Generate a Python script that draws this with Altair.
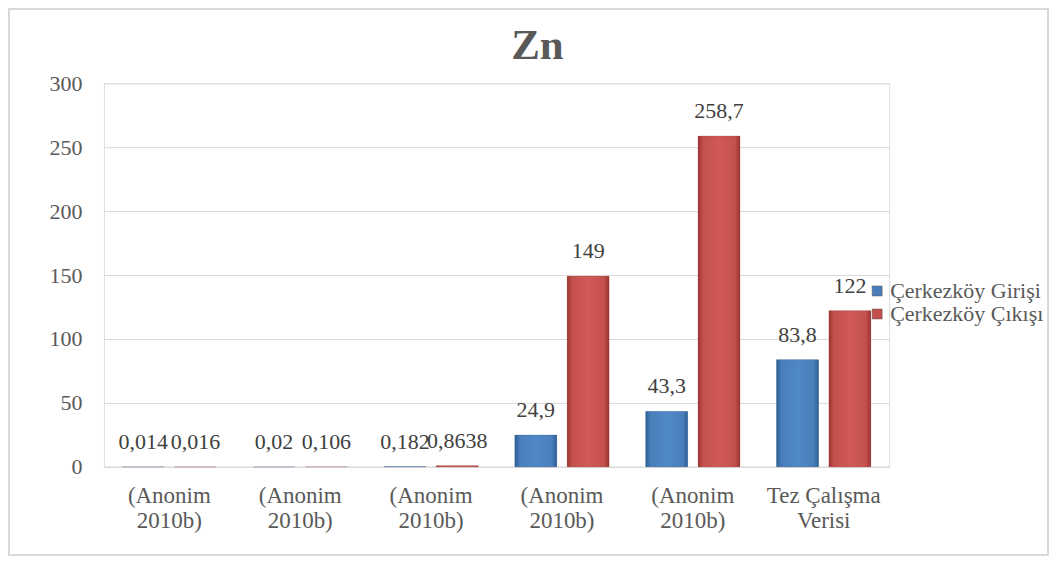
import altair as alt
import pandas as pd
import json

# ---- data ----
categories = [["(Anonim", "2010b)"], ["(Anonim", "2010b)"], ["(Anonim", "2010b)"],
              ["(Anonim", "2010b)"], ["(Anonim", "2010b)"], ["Tez Çalışma", "Verisi"]]
series = ["Çerkezköy Girişi", "Çerkezköy Çıkışı"]
giris = [0.014, 0.02, 0.182, 24.9, 43.3, 83.8]
cikis = [0.016, 0.106, 0.8638, 149, 258.7, 122]
y_ticks = [0, 50, 100, 150, 200, 250, 300]

def fmt(v):
    return str(v).replace(".", ",")

rows = []
for i in range(len(categories)):
    rows.append({"cat": i, "series": series[0], "value": giris[i], "label": fmt(giris[i])})
    rows.append({"cat": i, "series": series[1], "value": cikis[i], "label": fmt(cikis[i])})
df = pd.DataFrame(rows)

FONT = "Liberation Serif"
label_expr = json.dumps(categories, ensure_ascii=False) + "[datum.value]"

x = alt.X("cat:O", scale=alt.Scale(paddingInner=0.28, paddingOuter=0.14),
          axis=alt.Axis(title=None, labelExpr=label_expr, labelAngle=0, ticks=False,
                        domain=True, domainColor="#d9d9d9", labelPadding=18,
                        labelLineHeight=25, labelFontSize=23, labelColor="#595959",
                        labelFont=FONT))
xo = alt.XOffset("series:N", sort=series,
                 scale=alt.Scale(domain=series, paddingInner=0.2, paddingOuter=0))
y = alt.Y("value:Q", scale=alt.Scale(domain=[0, 300]),
          axis=alt.Axis(title=None, values=y_ticks, ticks=False, domain=False,
                        gridColor="#d9d9d9", labelPadding=22, labelFontSize=22,
                        labelColor="#595959", labelFont=FONT))

base = alt.Chart(df)

bars = base.mark_bar().encode(
    x=x, xOffset=xo, y=y,
    color=alt.Color("series:N", sort=series,
                    scale=alt.Scale(domain=series, range=["#4a7ebb", "#c4504d"]),
                    legend=alt.Legend(title=None, orient="none", legendX=763, legendY=197,
                                      symbolType="square", symbolSize=100,
                                      symbolStrokeColor="#555555", symbolStrokeWidth=0.5,
                                      labelFont=FONT, labelFontSize=22, labelLimit=400,
                                      labelColor="#595959", rowPadding=1, labelOffset=2)),
)

def grad(dark, mid, light):
    return alt.Gradient(gradient="linear", x1=0, x2=1, y1=0, y2=0,
                        stops=[alt.GradientStop(color=dark, offset=0),
                               alt.GradientStop(color=mid, offset=0.12),
                               alt.GradientStop(color=light, offset=0.5),
                               alt.GradientStop(color=mid, offset=0.88),
                               alt.GradientStop(color=dark, offset=1)])

blue_bars = base.transform_filter(alt.datum.series == series[0]).mark_bar(
    fill=grad("#2f5f95", "#4a7ebb", "#5088c8"), stroke="#2a4f7c", strokeWidth=0.6,
    strokeOpacity=0.35
).encode(x=x, xOffset=xo, y=y)

red_bars = base.transform_filter(alt.datum.series == series[1]).mark_bar(
    fill=grad("#9a3533", "#c4504d", "#cf5a57"), stroke="#8a2f2d", strokeWidth=0.6,
    strokeOpacity=0.35
).encode(x=x, xOffset=xo, y=y)

texts = base.mark_text(font=FONT, fontSize=22, color="#404040",
                       baseline="middle", dy=-25).encode(
    x=x, xOffset=xo, y=y, text="label:N"
)

frame = base.mark_rect(fill=None, stroke="#d9d9d9", strokeWidth=1.5).encode(
    x=alt.value(-95), x2=alt.value(945), y=alt.value(-74), y2=alt.value(472)
)

chart = alt.layer(frame, bars, blue_bars, red_bars, texts).properties(
    width=786, height=384,
    padding={"left": 96, "top": 75, "right": 160, "bottom": 90},
    autosize=alt.AutoSizeParams(type="none"),
    title=alt.TitleParams("Zn", font=FONT, fontSize=43, fontWeight="bold",
                          color="#595959", anchor="middle", dx=41, offset=-60),
).configure_view(stroke=None).configure(background="white")

chart.save("out.html", embed_options={"renderer": "svg", "actions": False})
